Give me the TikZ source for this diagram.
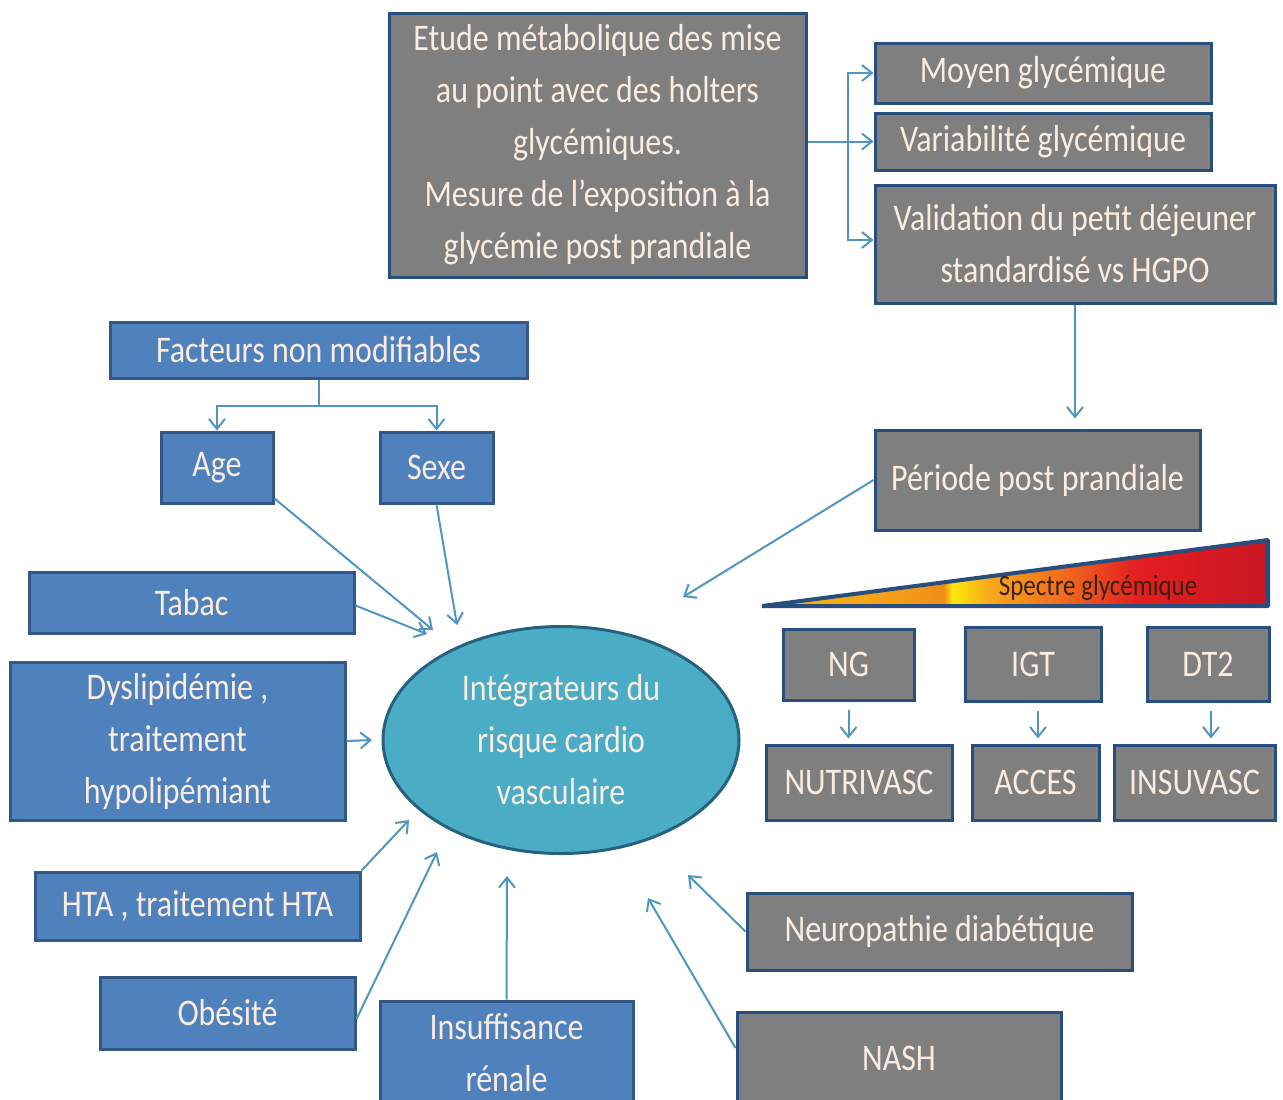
\documentclass[tikz,border=0pt]{standalone}
\usepackage{fontspec}
\usetikzlibrary{arrows.meta,shapes.geometric}
\newfontfamily\carl{Carlito}[FakeStretch=0.85]
\definecolor{txt}{RGB}{250,236,224}
\definecolor{bluefill}{RGB}{79,129,189}
\definecolor{blueline}{RGB}{50,88,135}
\definecolor{grayfill}{RGB}{127,127,127}
\definecolor{grayline}{RGB}{40,78,125}
\definecolor{ellfill}{RGB}{75,172,198}
\definecolor{ellline}{RGB}{38,98,125}
\definecolor{conn}{RGB}{80,150,192}
\definecolor{spectxt}{RGB}{55,35,15}
\definecolor{sA}{RGB}{245,185,20}
\definecolor{sB}{RGB}{245,160,25}
\definecolor{sC}{RGB}{240,140,25}
\definecolor{sD}{RGB}{255,232,10}
\definecolor{sE}{RGB}{248,168,25}
\definecolor{sF}{RGB}{240,105,30}
\definecolor{sG}{RGB}{228,30,32}
\definecolor{sH}{RGB}{200,22,35}
\pgfdeclarehorizontalshading{spectre}{100bp}{color(0bp)=(sA); color(25bp)=(sA); color(37.5bp)=(sB); color(43bp)=(sC); color(43.8bp)=(sD); color(47.5bp)=(sE); color(55bp)=(sF); color(62bp)=(sG); color(75bp)=(sH); color(100bp)=(sH)}
\newcommand\uu{0.5pt}
\tikzset{
  base/.style={rectangle, line width=1.5pt, inner sep=0pt, align=center, text=txt,
    font=\carl\fontsize{18.8}{26}\selectfont},
  bbox/.style={base, draw=blueline, fill=bluefill},
  gbox/.style={base, draw=grayline, fill=grayfill},
  arr/.style={draw=conn, line width=1pt, -{Straight Barb[length=5pt,width=8pt]}},
  ln/.style={draw=conn, line width=1pt},
}
\begin{document}
\begin{tikzpicture}[x=0.5pt,y=-0.5pt]
\useasboundingbox (0,0) rectangle (1283,1099);
\clip (0,0) rectangle (1283,1099);
\fill[white] (0,0) rectangle (1283,1099);

% top gray boxes
\node[gbox, minimum width=417*\uu, minimum height=264*\uu] (etude) at (597.5,145)
  {Etude métabolique des mise\\au point avec des holters\\glycémiques.\\Mesure de l’exposition à la\\glycémie post prandiale};
\node[gbox, minimum width=336*\uu, minimum height=60*\uu] (moyen) at (1043,73) {Moyen glycémique};
\node[gbox, minimum width=336*\uu, minimum height=57*\uu] (varia) at (1043,141.5) {Variabilité glycémique};
\node[gbox, minimum width=400*\uu, minimum height=118*\uu] (valid) at (1075,244)
  {Validation du petit déjeuner\\standardisé vs HGPO};
\node[gbox, minimum width=325*\uu, minimum height=100*\uu] (periode) at (1037.5,480) {Période post prandiale};

% spectrum
\shade[shading=spectre] (762,606) -- (1268,540) -- (1268,606) -- cycle;
\draw[grayline, line width=2pt, line join=bevel] (762,606) -- (1268,540) -- (1268,606) -- cycle;
\node[font=\carl\fontsize{14.7}{17}\selectfont, text=spectxt] (spec) at (1098,588) {Spectre glycémique};

\node[gbox, minimum width=131*\uu, minimum height=71*\uu] (ng) at (848.5,664.5) {NG};
\node[gbox, minimum width=136*\uu, minimum height=74*\uu] (igt) at (1033,664) {IGT};
\node[gbox, minimum width=122*\uu, minimum height=74*\uu] (dt2) at (1208,664) {DT2};
\node[gbox, minimum width=186*\uu, minimum height=75*\uu] (nutri) at (859,782.5) {NUTRIVASC};
\node[gbox, minimum width=127*\uu, minimum height=75*\uu] (acces) at (1035.5,782.5) {ACCES};
\node[gbox, minimum width=161*\uu, minimum height=75*\uu] (insu) at (1194.5,782.5) {INSUVASC};

\node[gbox, minimum width=385*\uu, minimum height=77*\uu] (neuro) at (939.5,931.5) {Neuropathie diabétique};
\node[gbox, minimum width=324*\uu, minimum height=91*\uu] (nash) at (899,1058) {NASH};

% blue boxes
\node[bbox, minimum width=417*\uu, minimum height=56*\uu] (fact) at (318.5,350) {Facteurs non modifiables};
\node[bbox, minimum width=112*\uu, minimum height=71*\uu] (age) at (217,467.5) {Age};
\node[bbox, minimum width=113*\uu, minimum height=71*\uu] (sexe) at (436.5,467.5) {Sexe};
\node[bbox, minimum width=325*\uu, minimum height=61*\uu] (tabac) at (191.5,602.5) {Tabac};
\node[bbox, minimum width=335*\uu, minimum height=158*\uu] (dys) at (177.5,741)
  {Dyslipidémie ,\\traitement\\hypolipémiant};
\node[bbox, minimum width=325*\uu, minimum height=68*\uu] (hta) at (197.5,906) {HTA , traitement HTA};
\node[bbox, minimum width=255*\uu, minimum height=72*\uu] (obes) at (227.5,1013) {Obésité};
\node[bbox, minimum width=253*\uu, minimum height=103*\uu] (ins) at (506.5,1052.5) {Insuffisance\\rénale};

% central ellipse
\node[ellipse, draw=ellline, fill=ellfill, line width=1.5pt, minimum width=356*\uu,
  minimum height=227*\uu, inner sep=0pt, align=center, text=txt,
  font=\carl\fontsize{18.8}{26}\selectfont] (ell) at (561,740)
  {Intégrateurs du\\risque cardio\\vasculaire};

% arrow tips near the ellipse
\coordinate (tAge) at (433,630);
\coordinate (tSexe) at (457,625);
\coordinate (tTabac) at (427,634);
\coordinate (tDys) at (372,740);
\coordinate (tHTA) at (409,820);
\coordinate (tObes) at (437,852);
\coordinate (tIns) at (507,876);
\coordinate (tNeuro) at (688,875);
\coordinate (tNash) at (648,898);
\coordinate (tPer) at (683,597);

% connectors
\coordinate (jn) at (848,142);
\draw[ln] (etude.east |- jn) -- (jn);
\draw[arr] (jn) |- (moyen.west);
\draw[arr] (jn) |- (varia.west);
\draw[arr] (jn) |- ([yshift=2pt]valid.west);
\draw[arr, shorten >=5pt] (valid.south) -- (valid.south |- periode.north);
\draw[arr] (periode.west) -- (tPer);

\draw[arr, shorten <=4pt, shorten >=2.5pt] (ng.south) -- (ng.south |- nutri.north);
\draw[arr, shorten <=4pt, shorten >=2.5pt] ([xshift=2.5pt]igt.south) -- ([xshift=2.5pt]igt.south |- acces.north);
\draw[arr, shorten <=4pt, shorten >=2.5pt] ([xshift=1.5pt]dt2.south) -- ([xshift=1.5pt]dt2.south |- insu.north);

\draw[arr] (fact.south) -- ++(0,26) -| (age.north);
\draw[arr] (fact.south) -- ++(0,26) -| (sexe.north);

\draw[arr] ([yshift=3pt]age.south east) -- (tAge);
\draw[arr] (sexe.south) -- (tSexe);
\draw[arr] ([yshift=-1.5pt]tabac.east) -- (tTabac);
\draw[arr] (dys.east) -- (tDys);
\draw[arr] (hta.north east) -- (tHTA);
\draw[arr] ([yshift=-3pt]obes.east) -- (tObes);
\draw[arr] (ins.north) -- (tIns);
\draw[arr] (neuro.west) -- (tNeuro);
\draw[arr] ([yshift=5pt]nash.west) -- (tNash);
\end{tikzpicture}
\end{document}
